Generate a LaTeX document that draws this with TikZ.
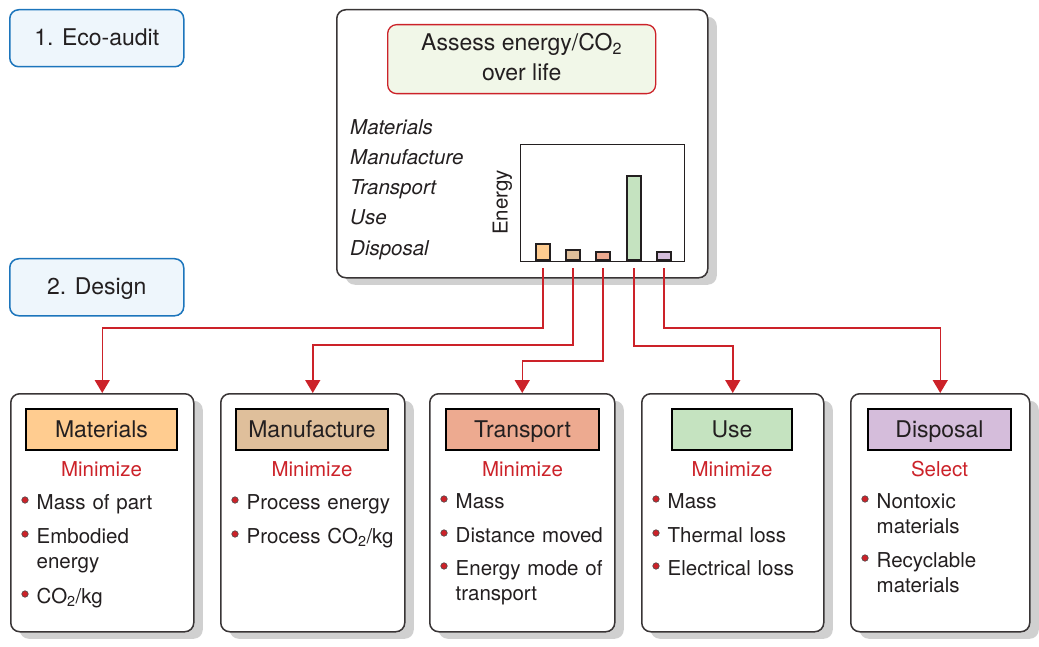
\documentclass[tikz,border=0pt]{standalone}
\usepackage{fontspec}
\setmainfont{TeX Gyre Heros}
\usetikzlibrary{shadows,arrows.meta}
\definecolor{ink}{HTML}{231F20}
\definecolor{rd}{HTML}{CC2229}
\definecolor{shd}{HTML}{D0D0D0}
\definecolor{bluebd}{HTML}{1C75BC}
\definecolor{bluefill}{HTML}{EEF6FC}
\definecolor{titlefill}{HTML}{F1F7E8}
\definecolor{cmat}{HTML}{FFCC90}
\definecolor{cman}{HTML}{DFBF9B}
\definecolor{ctra}{HTML}{EDAA90}
\definecolor{cuse}{HTML}{C5E3C0}
\definecolor{cdis}{HTML}{D5BDDB}
\tikzset{
  card/.style={draw=ink!90, line width=1.5pt, rounded corners=9pt, fill=white, anchor=north west, inner sep=0pt,
    drop shadow={shadow xshift=9pt, shadow yshift=-7pt, fill=shd, opacity=1}},
  stage/.style={draw=bluebd, line width=1.5pt, rounded corners=9pt, fill=bluefill, anchor=north west,
    minimum width=174pt, minimum height=57pt, inner sep=0pt, text=ink, font=\fontsize{23}{27}\selectfont,
    text height=19.5pt, text depth=4.5pt},
  hdr/.style={draw=black, line width=1.3pt, minimum height=41pt, inner sep=0pt, text=ink, font=\fontsize{23}{27}\selectfont,
    text height=19.5pt, text depth=4.5pt},
  body/.style={text=ink, inner sep=0pt, font=\fontsize{20.5}{25.5}\selectfont},
  itm/.style={body, anchor=base west, text width=175pt, align=left},
  lbl/.style={body, anchor=base west, font=\fontsize{20.5}{25.5}\selectfont\itshape},
  redtxt/.style={text=rd, inner sep=0pt, anchor=base, font=\fontsize{20.5}{25.5}\selectfont},
  dot/.style={circle, fill=rd, draw=ink!80, line width=0.6pt, inner sep=0pt, minimum size=6.5pt},
  bar/.style={draw=ink, line width=1.5pt, minimum width=14pt, anchor=south west, inner sep=0pt},
  conn/.style={draw=rd, line width=1.5pt, -{Triangle[width=15pt,length=13pt]}}
}
\begin{document}
\begin{tikzpicture}[x=1pt,y=-1pt]
\useasboundingbox (0,0) rectangle (1039,647);

% stage labels
\node[stage] (eco) at (9,9) {1. Eco-audit};
\node[stage] (des) at (9,258) {2. Design};

% main audit box
\node[card, minimum width=371pt, minimum height=268pt] (audit) at (336,9) {};
\node[draw=rd, fill=titlefill, line width=1.3pt, rounded corners=9pt, minimum width=268pt, minimum height=69pt,
  anchor=north west, inner sep=0pt] (title) at (387,24) {};
\node[text=ink, inner sep=0pt, align=center, font=\fontsize{23}{30}\selectfont] (ttl) at ([yshift=2pt]title.center)
  {Assess energy/CO\textsubscript{2}\\over life};

\node[lbl] (l1) at (350,135) {Materials};
\node[lbl] (l2) at (350,165) {Manufacture};
\node[lbl] (l3) at (350,195) {Transport};
\node[lbl] (l4) at (350,225) {Use};
\node[lbl] (l5) at (350,256) {Disposal};

\node[draw=ink, line width=1.2pt, minimum width=164pt, minimum height=117pt, anchor=north west, inner sep=0pt] (chart) at (520,144) {};
\node[body, rotate=90] (en) at (502.5,202.5) {Energy};
\node[bar, fill=cmat, minimum height=16pt] (b1) at (535,261) {};
\node[bar, fill=cman, minimum height=10pt] (b2) at (565,261) {};
\node[bar, fill=ctra, minimum height=8pt] (b3) at (595,261) {};
\node[bar, fill=cuse, minimum height=84pt] (b4) at (626,261) {};
\node[bar, fill=cdis, minimum height=8pt] (b5) at (656,261) {};

% cards
\node[card, minimum width=183pt, minimum height=238pt] (matc) at (10,393) {};
\node[card, minimum width=184pt, minimum height=238pt] (manc) at (220,393) {};
\node[card, minimum width=185pt, minimum height=238pt] (trac) at (429,393) {};
\node[card, minimum width=182pt, minimum height=238pt] (usec) at (641,393) {};
\node[card, minimum width=179pt, minimum height=238pt] (disc) at (850,393) {};

\node[hdr, fill=cmat, minimum width=151pt] (h1) at (101.5,429.5) {Materials};
\node[hdr, fill=cman, minimum width=152pt] (h2) at (312,429.5) {Manufacture};
\node[hdr, fill=ctra, minimum width=153pt] (h3) at (522.5,429.5) {Transport};
\node[hdr, fill=cuse, minimum width=120pt] (h4) at (732,429.5) {Use};
\node[hdr, fill=cdis, minimum width=143pt] (h5) at (939.5,429.5) {Disposal};

\node[redtxt] (r1) at (101.5,476) {Minimize};
\node[redtxt] (r2) at (312,476) {Minimize};
\node[redtxt] (r3) at (522.5,476) {Minimize};
\node[redtxt] (r4) at (732,476) {Minimize};
\node[redtxt] (r5) at (939.5,476) {Select};

% Materials items
\node[dot] (d11) at (25,500) {};
\node[itm] (t11) at (36.5,509) {Mass of part};
\node[dot] (d12) at (25,534) {};
\node[itm] (t12) at (36.5,543) {Embodied\\energy};
\node[dot] (d13) at (25,594) {};
\node[itm] (t13) at (36.5,603) {CO\textsubscript{2}/kg};
% Manufacture items
\node[dot] (d21) at (235,500) {};
\node[itm] (t21) at (246.5,509) {Process energy};
\node[dot] (d22) at (235,534) {};
\node[itm] (t22) at (246.5,543) {Process CO\textsubscript{2}/kg};
% Transport items
\node[dot] (d31) at (444,499) {};
\node[itm] (t31) at (455.5,508) {Mass};
\node[dot] (d32) at (444,533) {};
\node[itm] (t32) at (455.5,542) {Distance moved};
\node[dot] (d33) at (444,566) {};
\node[itm] (t33) at (455.5,575) {Energy mode of\\transport};
% Use items
\node[dot] (d41) at (656,499) {};
\node[itm] (t41) at (667.5,508) {Mass};
\node[dot] (d42) at (656,533) {};
\node[itm] (t42) at (667.5,542) {Thermal loss};
\node[dot] (d43) at (656,566) {};
\node[itm] (t43) at (667.5,575) {Electrical loss};
% Disposal items
\node[dot] (d51) at (865,499) {};
\node[itm] (t51) at (876.5,508) {Nontoxic\\materials};
\node[dot] (d52) at (865,558) {};
\node[itm] (t52) at (876.5,567) {Recyclable\\materials};

% connectors
\draw[conn] ([yshift=-7pt]b1.south) -- ++(0,60) -| (matc.north);
\draw[conn] ([yshift=-7pt]b2.south) -- ++(0,77) -| (manc.north);
\draw[conn] ([yshift=-7pt]b3.south) -- ++(0,93) -| (trac.north);
\draw[conn] ([yshift=-7pt]b4.south) -- ++(0,78) -| (usec.north);
\draw[conn] ([yshift=-7pt]b5.south) -- ++(0,60) -| (disc.north);
\end{tikzpicture}
\end{document}
